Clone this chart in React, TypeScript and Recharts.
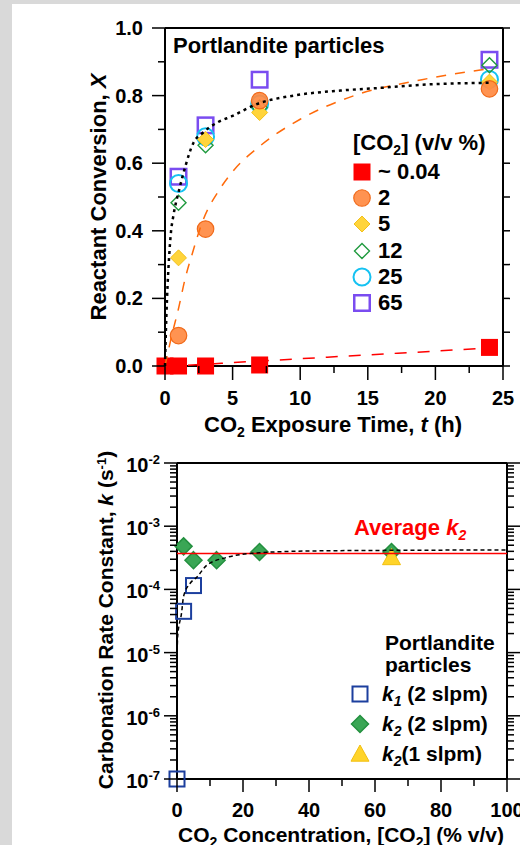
import React from 'react';
import { ComposedChart, Scatter, Line, XAxis, YAxis, Legend, ReferenceLine } from 'recharts';

const FONT = '"Liberation Sans", Arial, Helvetica, sans-serif';

// ---- top panel: reactant conversion vs CO2 exposure time ----
const airTime = [0, 1, 3, 7, 24];
const airConv = [0, 0, 0, 0.003, 0.055];
const expTime = [1, 3, 7, 24];
const conv2 = [0.09, 0.405, 0.785, 0.82];
const conv5 = [0.32, 0.67, 0.75, 0.84];
const conv12 = [0.483, 0.653, 0.765, 0.89];
const conv25 = [0.54, 0.678, 0.775, 0.848];
const conv65 = [0.56, 0.712, 0.847, 0.906];

// fitted curves
const fitFastTime = [0, 0.05, 0.15, 0.3, 0.45, 0.6, 1.1, 1.5, 2.1, 2.8, 3.85, 5, 6.8, 9.5, 13, 16, 19, 24];
const fitFastConv = [0, 0.08, 0.2, 0.32, 0.4, 0.44, 0.53, 0.59, 0.66, 0.69, 0.72, 0.74, 0.775, 0.8, 0.815, 0.823, 0.832, 0.838];
const fit2Time = [0, 0.5, 1, 1.5, 2, 2.8, 4, 5, 7, 10, 14, 19, 24];
const fit2Conv = [0, 0.09, 0.17, 0.26, 0.33, 0.43, 0.52, 0.575, 0.65, 0.73, 0.8, 0.847, 0.88];
const fitAirTime = [0, 3, 5, 8.5, 12, 15, 20, 24];
const fitAirConv = [0, 0.005, 0.01, 0.018, 0.026, 0.033, 0.044, 0.054];

const timeTicks = [0, 2.5, 5, 7.5, 10, 12.5, 15, 17.5, 20, 22.5, 25];
const convTicks = [0, 0.1, 0.2, 0.3, 0.4, 0.5, 0.6, 0.7, 0.8, 0.9, 1];

// ---- bottom panel: rate constant vs CO2 concentration ----
const k1Conc = [0, 2, 5];
const k1Rate = [1e-7, 4.5e-5, 1.15e-4];
const k2Conc = [2, 5, 12, 25, 65];
const k2Rate = [4.8e-4, 2.9e-4, 2.9e-4, 3.9e-4, 3.9e-4];
const k2LowConc = [65];
const k2LowRate = [3.2e-4];
const avgK2 = 3.7e-4;
const fitKConc = [0, 0.2, 1.4, 2, 4, 6, 9, 15, 25, 40, 65, 100];
const fitKRate = [8e-6, 1.8e-5, 4.3e-5, 7.8e-5, 1.25e-4, 1.56e-4, 2.4e-4, 3.2e-4, 3.8e-4, 4.05e-4, 4.15e-4, 4.2e-4];

const concTicks = [0, 10, 20, 30, 40, 50, 60, 70, 80, 90, 100];
const kDecades = [1e-7, 1e-6, 1e-5, 1e-4, 1e-3, 1e-2];
const kMinorSteps = [2, 3, 4, 5, 6, 7, 8, 9];
const kTicks = kDecades.concat(
  kDecades.slice(0, -1).flatMap((d) => kMinorSteps.map((m) => m * d))
);

const pts = (xs: number[], ys: number[]) => xs.map((x, i) => ({ x, y: ys[i] }));

type Kind = 'square' | 'circle' | 'diamond' | 'triangle';
type MarkerStyle = { kind: Kind; size: number; fill: string; stroke: string; sw: number; opacity?: number };

function Marker({ cx, cy, m }: { cx: number; cy: number; m: MarkerStyle }) {
  const h = m.size / 2;
  const common = { fill: m.fill, stroke: m.stroke, strokeWidth: m.sw, fillOpacity: m.opacity ?? 1 };
  if (m.kind === 'square') return <rect x={cx - h} y={cy - h} width={m.size} height={m.size} {...common} />;
  if (m.kind === 'circle') return <circle cx={cx} cy={cy} r={h} {...common} />;
  if (m.kind === 'diamond')
    return <polygon points={`${cx},${cy - h} ${cx + h},${cy} ${cx},${cy + h} ${cx - h},${cy}`} {...common} />;
  return <polygon points={`${cx},${cy - h} ${cx + h},${cy + h * 0.8} ${cx - h},${cy + h * 0.8}`} {...common} />;
}

const topSeries: (MarkerStyle & { name: string; t: number[]; v: number[] })[] = [
  { name: '~ 0.04', t: airTime, v: airConv, kind: 'square', size: 17, fill: '#ff0000', stroke: '#ff0000', sw: 0 },
  { name: '2', t: expTime, v: conv2, kind: 'circle', size: 16.5, fill: '#ff8a42', stroke: '#f06a1a', sw: 1.2, opacity: 0.92 },
  { name: '5', t: expTime, v: conv5, kind: 'diamond', size: 16, fill: '#ffd43b', stroke: '#f2c01a', sw: 1 },
  { name: '12', t: expTime, v: conv12, kind: 'diamond', size: 15, fill: 'none', stroke: '#1f9a3e', sw: 1.4 },
  { name: '25', t: expTime, v: conv25, kind: 'circle', size: 17, fill: 'none', stroke: '#15c2f2', sw: 2 },
  { name: '65', t: expTime, v: conv65, kind: 'square', size: 15.5, fill: 'none', stroke: '#7a4cf0', sw: 2.5 },
];

const bottomSeries: (MarkerStyle & { id: string; c: number[]; v: number[] })[] = [
  { id: 'k1', c: k1Conc, v: k1Rate, kind: 'square', size: 15, fill: 'none', stroke: '#1c3f9e', sw: 2 },
  { id: 'k2', c: k2Conc, v: k2Rate, kind: 'diamond', size: 17, fill: '#3aa655', stroke: '#23903f', sw: 1.5 },
  { id: 'k2low', c: k2LowConc, v: k2LowRate, kind: 'triangle', size: 18, fill: '#ffd42a', stroke: '#f2bf10', sw: 1 },
];

const onStep = (v: number, step: number) => Math.abs(v / step - Math.round(v / step)) < 1e-6;
const tickFont = { fontFamily: FONT, fontWeight: 700, fontSize: 20, fill: '#000' } as const;
const titleFont = { fontFamily: FONT, fontWeight: 700, fontSize: 22, fill: '#000' } as const;
const axisStyle = { stroke: '#000', strokeWidth: 2 };
const tl = (x1: number, y1: number, x2: number, y2: number) => (
  <line x1={x1} y1={y1} x2={x2} y2={y2} stroke="#000" strokeWidth={1.5} />
);

// ---- tick renderers ----
const TimeTick = ({ x, y, payload }: any) => {
  const major = onStep(payload.value, 5);
  return (
    <g>
      {tl(x, y, x, y + (major ? 14 : 7))}
      {major && <text x={x} y={y + 39} textAnchor="middle" {...tickFont}>{payload.value}</text>}
    </g>
  );
};
const TimeTopTick = ({ x, y, payload }: any) => tl(x, y, x, y - (onStep(payload.value, 5) ? 14 : 7));
const ConvTick = ({ x, y, payload }: any) => {
  const major = onStep(payload.value, 0.2);
  return (
    <g>
      {tl(x, y, x - (major ? 13 : 7), y)}
      {major && <text x={x - 22} y={y + 7} textAnchor="end" {...tickFont}>{payload.value.toFixed(1)}</text>}
    </g>
  );
};
const ConvRightTick = ({ x, y }: any) => tl(x, y, x + 7, y);

const ConcTick = ({ x, y, payload }: any) => {
  const major = onStep(payload.value, 20);
  return (
    <g>
      {tl(x, y, x, y + (major ? 13 : 7))}
      {major && <text x={x} y={y + 38} textAnchor="middle" {...tickFont}>{payload.value}</text>}
    </g>
  );
};
const ConcTopTick = ({ x, y, payload }: any) => tl(x, y, x, y - (onStep(payload.value, 20) ? 13 : 7));
const isDecade = (v: number) => onStep(Math.log10(v), 1);
const RateTick = ({ x, y, payload }: any) => {
  const major = isDecade(payload.value);
  return (
    <g>
      {tl(x, y, x - (major ? 13 : 7), y)}
      {major && (
        <text x={x - 17} y={y + 9} textAnchor="end" {...tickFont}>
          10<tspan dy={-8} fontSize={13}>{Math.round(Math.log10(payload.value))}</tspan>
        </text>
      )}
    </g>
  );
};
const RateRightTick = ({ x, y, payload }: any) => tl(x, y, x + (isDecade(payload.value) ? 13 : 7), y);

// ---- titles ----
const topTitle = () => (
  <text x={173} y={53} {...titleFont}>Portlandite particles</text>
);
const topXTitle = () => (
  <text x={333} y={432} textAnchor="middle" {...titleFont}>
    CO<tspan dy={5} fontSize={14}>2</tspan>
    <tspan dy={-5}> Exposure Time, </tspan>
    <tspan fontStyle="italic">t</tspan> (h)
  </text>
);
const topYTitle = () => (
  <text x={106} y={197} textAnchor="middle" transform="rotate(-90 106 197)" {...titleFont}>
    Reactant Conversion, <tspan fontStyle="italic">X</tspan>
  </text>
);
const botXTitle = () => (
  <text x={341} y={412} textAnchor="middle" {...titleFont} fontSize={21}>
    CO<tspan dy={5} fontSize={14}>2</tspan>
    <tspan dy={-5}> Concentration, [CO</tspan>
    <tspan dy={5} fontSize={14}>2</tspan>
    <tspan dy={-5}>] (% v/v)</tspan>
  </text>
);
const botYTitle = () => (
  <text x={113} y={190} textAnchor="middle" transform="rotate(-90 113 190)" {...titleFont} fontSize={21}>
    Carbonation Rate Constant, <tspan fontStyle="italic">k</tspan> (s<tspan dy={-7} fontSize={13}>-1</tspan>
    <tspan dy={7}>)</tspan>
  </text>
);
const avgLabel = () => (
  <text x={354} y={105} {...titleFont} fill="#ff0000">
    Average <tspan fontStyle="italic">k</tspan>
    <tspan dy={5} fontSize={14} fontStyle="italic">2</tspan>
  </text>
);

// ---- legends ----
const legendText = { fontFamily: FONT, fontWeight: 700, fontSize: 22, color: '#000' } as const;
const subStyle = { fontSize: 14, position: 'relative', top: 5 } as const;

const TopLegend = () => (
  <div style={legendText}>
    <div style={{ height: 29, lineHeight: '26px', paddingLeft: 5, whiteSpace: 'nowrap' }}>
      [CO<span style={subStyle}>2</span>] (v/v %)
    </div>
    {topSeries.map((s) => (
      <div key={s.name} style={{ height: 26.2, display: 'flex', alignItems: 'center' }}>
        <svg width={20} height={24} style={{ marginLeft: 4, marginRight: 6 }}>
          <Marker cx={10} cy={12} m={s} />
        </svg>
        <span>{s.name}</span>
      </div>
    ))}
  </div>
);

const bottomLegendLabels = [
  <>
    <i>k</i><i style={subStyle}>1</i> (2 slpm)
  </>,
  <>
    <i>k</i><i style={subStyle}>2</i> (2 slpm)
  </>,
  <>
    <i>k</i><i style={subStyle}>2</i>(1 slpm)
  </>,
];

const BottomLegend = () => (
  <div style={{ ...legendText, fontSize: 21 }}>
    <div style={{ lineHeight: '22px', paddingLeft: 37, marginBottom: 2.6 }}>
      Portlandite
      <br />
      particles
    </div>
    {bottomSeries.map((s, i) => (
      <div key={s.id} style={{ height: 30, display: 'flex', alignItems: 'center', whiteSpace: 'nowrap' }}>
        <svg width={20} height={24} style={{ marginLeft: 2, marginRight: 12 }}>
          <Marker cx={10} cy={12} m={s} />
        </svg>
        <span>{bottomLegendLabels[i]}</span>
      </div>
    ))}
  </div>
);

function ConversionChart() {
  return (
    <ComposedChart width={520} height={445} margin={{ top: 0, right: 7, bottom: 0, left: 0 }}>
      <XAxis dataKey="x" type="number" domain={[0, 25]} ticks={timeTicks} interval={0} height={79}
        tickSize={0} tickMargin={0} tickLine={false} tick={TimeTick} axisLine={axisStyle} label={topXTitle} />
      <XAxis xAxisId="top" orientation="top" type="number" domain={[0, 25]} allowDataOverflow ticks={timeTicks}
        interval={0} height={28} tickSize={0} tickMargin={0} tickLine={false} tick={TimeTopTick} axisLine={axisStyle}
        label={topTitle} />
      <YAxis dataKey="y" type="number" domain={[0, 1]} ticks={convTicks} interval={0} width={165}
        tickSize={0} tickMargin={0} tickLine={false} tick={ConvTick} axisLine={axisStyle} label={topYTitle} />
      <YAxis yAxisId="right" orientation="right" type="number" domain={[0, 1]} allowDataOverflow ticks={convTicks}
        interval={0} width={10} tickSize={0} tickMargin={0} tickLine={false} tick={ConvRightTick} axisLine={axisStyle} />
      {[...topSeries].reverse().map((s) => (
        <Scatter key={s.name} name={s.name} data={pts(s.t, s.v)} isAnimationActive={false}
          shape={(p: any) => <Marker cx={p.cx} cy={p.cy} m={s} />} />
      ))}
      <Line data={pts(fitAirTime, fitAirConv)} dataKey="y" type="monotone" stroke="#ff0000" strokeWidth={1.5}
        strokeDasharray="12 11" dot={false} activeDot={false} legendType="none" isAnimationActive={false} zIndex={700} />
      <Line data={pts(fit2Time, fit2Conv)} dataKey="y" type="monotone" stroke="#ff6a0a" strokeWidth={1.5}
        strokeDasharray="10 9" dot={false} activeDot={false} legendType="none" isAnimationActive={false} zIndex={700} />
      <Line data={pts(fitFastTime, fitFastConv)} dataKey="y" type="monotone" stroke="#000" strokeWidth={2.5}
        strokeDasharray="3 4" dot={false} activeDot={false} legendType="none" isAnimationActive={false} zIndex={700} />
      <Legend content={TopLegend} layout="vertical" align="center" verticalAlign="middle"
        wrapperStyle={{ left: 348, top: 130, width: 170 }} />
    </ComposedChart>
  );
}

function RateChart() {
  return (
    <ComposedChart width={520} height={415} margin={{ top: 0, right: 3, bottom: 0, left: 0 }}>
      <XAxis dataKey="x" type="number" domain={[0, 100]} ticks={concTicks} interval={0} height={66}
        tickSize={0} tickMargin={0} tickLine={false} tick={ConcTick} axisLine={axisStyle} label={botXTitle} />
      <XAxis xAxisId="top" orientation="top" type="number" domain={[0, 100]} allowDataOverflow ticks={concTicks}
        interval={0} height={33} tickSize={0} tickMargin={0} tickLine={false} tick={ConcTopTick} axisLine={axisStyle} />
      <YAxis dataKey="y" type="number" scale="log" domain={[1e-7, 1e-2]} ticks={kTicks} interval={0} width={177}
        tickSize={0} tickMargin={0} tickLine={false} tick={RateTick} axisLine={axisStyle} label={botYTitle} />
      <YAxis yAxisId="right" orientation="right" type="number" scale="log" domain={[1e-7, 1e-2]} allowDataOverflow
        ticks={kTicks} interval={0} width={10} tickSize={0} tickMargin={0} tickLine={false} tick={RateRightTick}
        axisLine={axisStyle} />
      {bottomSeries.map((s) => (
        <Scatter key={s.id} name={s.id} data={pts(s.c, s.v)} isAnimationActive={false}
          shape={(p: any) => <Marker cx={p.cx} cy={p.cy} m={s} />} />
      ))}
      <ReferenceLine y={avgK2} stroke="#ff0000" strokeWidth={1.5} label={avgLabel} zIndex={700} />
      <Line data={pts(fitKConc, fitKRate)} dataKey="y" type="monotone" stroke="#000" strokeWidth={1.5}
        strokeDasharray="4 3" dot={false} activeDot={false} legendType="none" isAnimationActive={false} zIndex={700} />
      <Legend content={BottomLegend} layout="vertical" align="center" verticalAlign="middle"
        wrapperStyle={{ left: 348, top: 202, width: 170 }} />
    </ComposedChart>
  );
}

export default function App() {
  return (
    <div style={{ position: 'absolute', left: 0, top: 0, width: 520, height: 845, background: '#d9d9d9', overflow: 'hidden' }}>
      <div style={{ position: 'absolute', left: 12, top: 4, right: 0, bottom: 0, background: '#fff' }} />
      <div style={{ position: 'absolute', left: 0, top: 430 }}>
        <RateChart />
      </div>
      <div style={{ position: 'absolute', left: 0, top: 0 }}>
        <ConversionChart />
      </div>
    </div>
  );
}
